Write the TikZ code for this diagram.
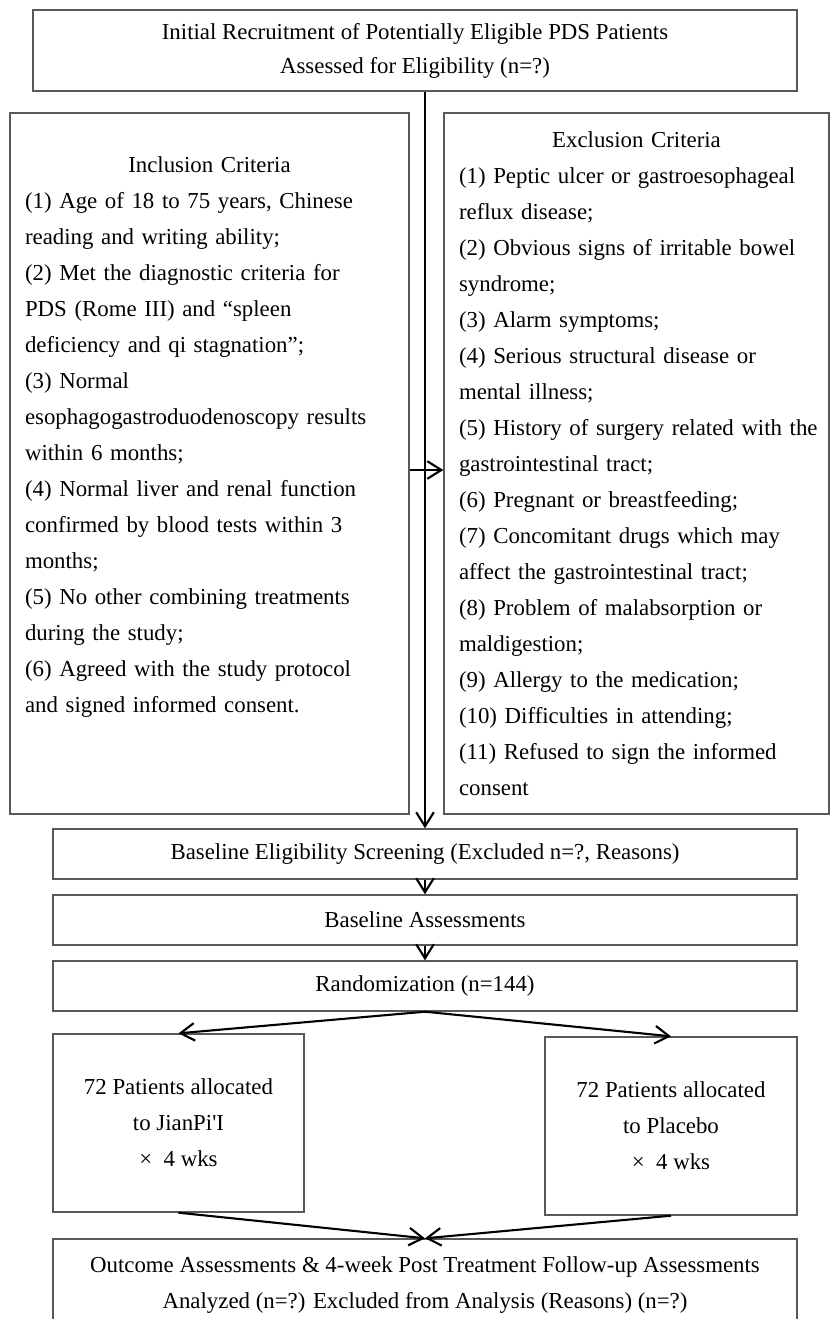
\documentclass[tikz,border=0pt]{standalone}
\usepackage{fontspec}
\setmainfont{Liberation Serif}
\usetikzlibrary{arrows.meta}

\begin{document}
\begin{tikzpicture}
    [
        x=0.02cm, y=-0.02cm,
        box/.style={rectangle, draw=black!65, line width=0.8pt, inner sep=0pt,
            font=\fontsize{13.0}{20.5}\selectfont,},
        edge/.style={-{Straight Barb[length=8pt,width=10pt]}, line width=1.2pt,},
    ]
    \useasboundingbox (0,0) rectangle (830,1319);

    % recruitment and criteria
    \node (top) at (415,50.5) [box, minimum width=15.28cm, minimum height=1.62cm, align=center,
        font=\fontsize{13.0}{19.4}\selectfont]
        {Initial Recruitment of Potentially Eligible PDS Patients\\Assessed for Eligibility (n=?)};
    \node (incl) at (209.5,463.5) [box, minimum width=7.98cm, minimum height=14.02cm,
        text width=7.38cm, align=left]
        {\makebox[\linewidth]{Inclusion Criteria}\\
         (1) Age of 18 to 75 years, Chinese\\
         reading and writing ability;\\
         (2) Met the diagnostic criteria for\\
         PDS (Rome III) and ``spleen\\
         deficiency and qi stagnation'';\\
         (3) Normal\\
         esophagogastroduodenoscopy results\\
         within 6 months;\\
         (4) Normal liver and renal function\\
         confirmed by blood tests within 3\\
         months;\\
         (5) No other combining treatments\\
         during the study;\\
         (6) Agreed with the study protocol\\
         and signed informed consent.\rule[-33pt]{0pt}{33pt}};
    \node (excl) at (636.5,463.5) [box, minimum width=7.70cm, minimum height=14.02cm,
        text width=7.1cm, align=left]
        {\makebox[\linewidth]{Exclusion Criteria}\\
         (1) Peptic ulcer or gastroesophageal\\
         reflux disease;\\
         (2) Obvious signs of irritable bowel\\
         syndrome;\\
         (3) Alarm symptoms;\\
         (4) Serious structural disease or\\
         mental illness;\\
         \mbox{(5) History of surgery related with the}\\
         gastrointestinal tract;\\
         (6) Pregnant or breastfeeding;\\
         (7) Concomitant drugs which may\\
         affect the gastrointestinal tract;\\
         (8) Problem of malabsorption or\\
         maldigestion;\\
         (9) Allergy to the medication;\\
         (10) Difficulties in attending;\\
         (11) Refused to sign the informed\\
         consent};

    % screening steps
    \node (elig) at (425,854)  [box, minimum width=14.88cm, minimum height=1.0cm]
        {Baseline Eligibility Screening (Excluded n=?, Reasons)};
    \node (base) at (425,920)  [box, minimum width=14.88cm, minimum height=1.0cm]
        {Baseline Assessments};
    \node (rand) at (425,986)  [box, minimum width=14.88cm, minimum height=1.0cm]
        {Randomization (n=144)};

    % groups
    \node (grpa) at (178.5,1123) [box, minimum width=5.02cm, minimum height=3.56cm, align=center]
        {72 Patients allocated\\to JianPi\textquotesingle I\\×\enspace 4 wks};
    \node (grpb) at (671,1126)   [box, minimum width=5.04cm, minimum height=3.56cm, align=center]
        {72 Patients allocated\\to Placebo\\×\enspace 4 wks};

    \node (outc) at (425,1285) [box, minimum width=14.88cm, minimum height=1.84cm, align=center]
        {Outcome Assessments \& 4-week Post Treatment Follow-up Assessments\\
         Analyzed (n=?) Excluded from Analysis (Reasons) (n=?)};

    \coordinate (mid) at (426,470);

    \draw [edge] (top.south -| elig.north) -- (elig.north);
    \draw [edge] (incl.east |- mid) -- (excl.west |- mid);
    \draw [edge] (elig.south) -- (base.north);
    \draw [edge] (base.south) -- (rand.north);
    \draw [edge] (rand.south) -- (grpa.north);
    \draw [edge] (rand.south) -- (grpb.north);
    \draw [edge] (grpa.south) -- (outc.north);
    \draw [edge] (grpb.south) -- (outc.north);
\end{tikzpicture}
\end{document}
